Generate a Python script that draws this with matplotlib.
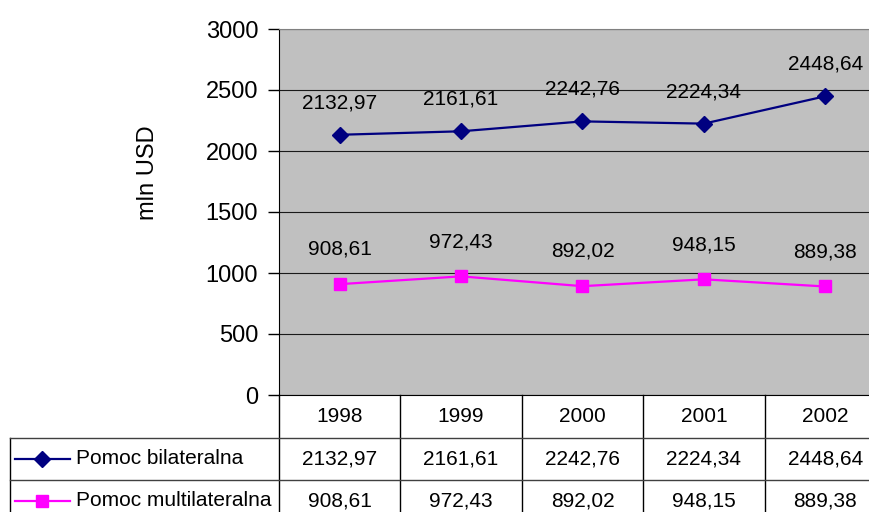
import matplotlib
matplotlib.use("Agg")
import matplotlib.pyplot as plt
from matplotlib.lines import Line2D

plt.rcParams['font.family'] = ['Liberation Sans', 'DejaVu Sans']

years = ["1998", "1999", "2000", "2001", "2002"]
bilateral = [2132.97, 2161.61, 2242.76, 2224.34, 2448.64]
multilateral = [908.61, 972.43, 892.02, 948.15, 889.38]
series_names = ["Pomoc bilateralna", "Pomoc multilateralna"]
y_ticks = [0, 500, 1000, 1500, 2000, 2500, 3000]

def fmt(v):
    return f"{v:.2f}".replace(".", ",")

W, H = 870, 512
fig = plt.figure(figsize=(W / 100, H / 100), dpi=100)
fig.patch.set_facecolor("white")

# axes in pixel coords: left 279, right ~886 (cropped by figure), top 29, bottom 395
x0, x1, yt, yb = 279, 886, 29, 395
ax = fig.add_axes([x0 / W, 1 - yb / H, (x1 - x0) / W, (yb - yt) / H])
ax.set_facecolor("#C0C0C0")

xs = list(range(len(years)))
ax.plot(xs, bilateral, color="#000080", lw=1.6, marker="D", ms=8, zorder=3)
ax.plot(xs, multilateral, color="#FF00FF", lw=1.6, marker="s", ms=8, zorder=3)

for x, v in zip(xs, bilateral):
    ax.annotate(fmt(v), (x, v), xytext=(0, 23), textcoords="offset points",
                ha="center", va="center", fontsize=15)
for x, v in zip(xs, multilateral):
    ax.annotate(fmt(v), (x, v), xytext=(0, 25), textcoords="offset points",
                ha="center", va="center", fontsize=15)

ax.set_xlim(-0.5, len(years) - 0.5)
ax.set_ylim(0, 3000)
ax.set_yticks(y_ticks)
ax.set_yticklabels([str(t) for t in y_ticks], fontsize=17)
ax.tick_params(axis="y", direction="out", length=8, width=1, pad=7, color="#000000")
ax.set_xticks([])
ax.yaxis.grid(True, color="#1a1a1a", lw=0.8)
ax.set_axisbelow(True)
ax.spines["right"].set_visible(False)
ax.spines["top"].set_color("#808080")
ax.spines["left"].set_color("#000000")
ax.spines["bottom"].set_color("#000000")

def fy(py):
    return 1 - py / H

def fx(px):
    return px / W

fig.text(fx(148), fy(173), "mln USD", rotation=90, ha="center", va="center", fontsize=17)

# Data table drawn below the axes
row_bottoms = [438, 480, 522]
col_w = (x1 - x0) / len(years)
col_edges = [x0 + i * col_w for i in range(len(years) + 1)]

lines = []
for cx in col_edges:
    lines.append(Line2D([fx(cx), fx(cx)], [fy(yb), fy(H + 5)], color="black", lw=1))
lines.append(Line2D([fx(10), fx(10)], [fy(row_bottoms[0]), fy(H + 5)], color="black", lw=1))
for rb in row_bottoms[:2]:
    lines.append(Line2D([fx(10), fx(x1)], [fy(rb), fy(rb)], color="#404040", lw=1))
for ln in lines:
    fig.add_artist(ln)

for i, yr in enumerate(years):
    cxm = (col_edges[i] + col_edges[i + 1]) / 2
    fig.text(fx(cxm), fy((yb + row_bottoms[0]) / 2), yr, ha="center", va="center", fontsize=15)

rows = [bilateral, multilateral]
colors = ["#000080", "#FF00FF"]
markers = ["D", "s"]
for r, (vals, name, c, m) in enumerate(zip(rows, series_names, colors, markers)):
    top = row_bottoms[r]
    bot = row_bottoms[r + 1]
    cy = (top + bot) / 2
    for i, v in enumerate(vals):
        cxm = (col_edges[i] + col_edges[i + 1]) / 2
        fig.text(fx(cxm), fy(cy), fmt(v), ha="center", va="center", fontsize=15)
    fig.add_artist(Line2D([fx(15), fx(70)], [fy(cy), fy(cy)], color=c, lw=1.6))
    fig.add_artist(Line2D([fx(42)], [fy(cy)], color=c, marker=m, ms=8, lw=0))
    fig.text(fx(76), fy(cy), name, ha="left", va="center", fontsize=15)

fig.savefig("out.png", dpi=100)
